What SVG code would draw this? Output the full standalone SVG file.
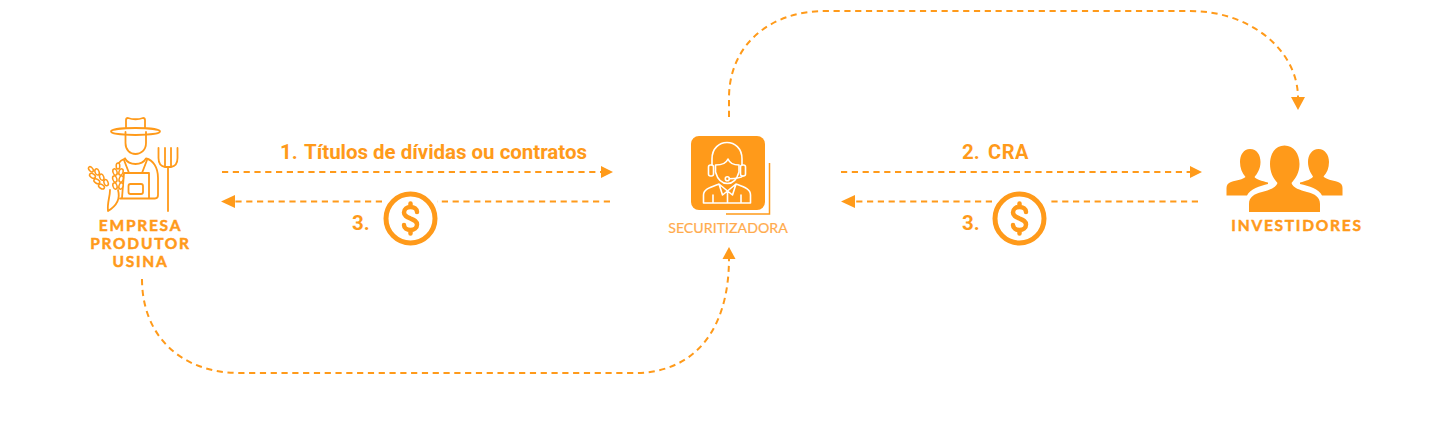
<svg xmlns="http://www.w3.org/2000/svg" width="1440" height="441" viewBox="0 0 1440 441">
<style>
.c{fill:none;stroke:#ff9a1a;stroke-width:2;stroke-dasharray:6.2 4.6}
.i{fill:none;stroke:#ff9a1a;stroke-width:1.8;stroke-linecap:round;stroke-linejoin:round}
.w{fill:none;stroke:#fff;stroke-width:1.6;stroke-linecap:round;stroke-linejoin:round}
.f{fill:#ff9a1a}
.l{font-family:"Lato","Liberation Sans",sans-serif;font-weight:700;font-size:15.500px;fill:#ff9a1a;stroke:#ff9a1a;stroke-width:.5;text-anchor:middle;letter-spacing:1.750px}
.r{font-family:"Roboto","Liberation Sans",sans-serif;font-weight:700;fill:#ff9a1a}
.d{fill:none;stroke:#ff9a1a;stroke-width:5}
</style>
<defs>
<g id="coin">
<circle r="24.500" class="d"/>
<path d="M6.500 -6.500C6.500 -9.500 3.500 -11.500 0 -11.500C-3.500 -11.500 -6.500 -9.500 -6.500 -6C-6.500 -2.500 -3.500 -1.500 0 0C3.500 1.500 6.500 2.500 6.500 6C6.500 9.500 3.500 11.500 0 11.500C-3.500 11.500 -6.500 9.500 -6.500 6.500M0 -15V-11.500M0 11.500V15" fill="none" stroke="#ff9a1a" stroke-width="4.500" stroke-linecap="round"/>
</g>
<g id="wheat" fill="#fff" stroke="#ff9a1a" stroke-width="1.500">
<ellipse cx="0" cy="3" rx="1.800" ry="3"/>
<ellipse cx="-3" cy="9" rx="2" ry="3.200" transform="rotate(-18 -3 9)"/><ellipse cx="3" cy="9" rx="2" ry="3.200" transform="rotate(18 3 9)"/>
<ellipse cx="-3.200" cy="16" rx="2" ry="3.200" transform="rotate(-18 -3.200 16)"/><ellipse cx="3.200" cy="16" rx="2" ry="3.200" transform="rotate(18 3.200 16)"/>
<ellipse cx="-3" cy="23" rx="2" ry="3.200" transform="rotate(-18 -3 23)"/><ellipse cx="3" cy="23" rx="2" ry="3.200" transform="rotate(18 3 23)"/>
</g>
</defs>
<rect width="1440" height="441" fill="#fff"/>
<g id="connectors">
<path class="c" d="M222 172H602"/><path class="f" d="M613 172L601 166V178Z"/>
<path class="c" d="M610 201.500H437M382 201.500H232"/><path class="f" d="M221 201.500L235 195V208Z"/>
<path class="c" d="M841 172H1191"/><path class="f" d="M1202 172L1190 166V178Z"/>
<path class="c" d="M1198 201.500H1047M992 201.500H852"/><path class="f" d="M841 201.500L855 195V208Z"/>
<path class="c" d="M729 117V98C729 45 770 11 825 11H1190C1250 11 1298 50 1298 98"/><path class="f" d="M1298 110L1291 97H1305Z"/>
<path class="c" d="M142 279C142 335 180 373 240 373H635C690 373 729 335 729 258"/><path class="f" d="M729 247L722.500 259H735.500Z"/>
</g>
<g id="label-1"><text class="r" x="280" y="159" font-size="20.500">1.</text><text class="r" x="304" y="158.500" font-size="20.500" textLength="283">Títulos de dívidas ou contratos</text></g>
<g id="label-2"><text class="r" x="962" y="159" font-size="20.500">2.</text><text class="r" x="988" y="158.500" font-size="20" letter-spacing=".6">CRA</text></g>
<g id="label-3a"><text class="r" x="352" y="230" font-size="20.500">3.</text><use href="#coin" x="410.500" y="218.500"/></g>
<g id="label-3b"><text class="r" x="962" y="230" font-size="20.500">3.</text><use href="#coin" x="1019.500" y="218.500"/></g>
<g id="empresa">
<ellipse class="i" cx="135.500" cy="131.500" rx="24.500" ry="3.500"/>
<path class="i" d="M126 128V120Q126 118 128 118Q135.500 120.500 143 118Q145 118 145 120V128"/>
<path class="i" d="M125.500 132V143C125.500 150 130 154 135.500 154C141 154 146 150 146 143V132"/>
<path class="i" d="M125 158.500C127 162 131 164 135.500 164C140 164 144 162 146 158.500C153 160 158 167 158 178V195Q158 198.500 155 198.500H120"/>
<path class="i" d="M125 158.500C122 159.500 120 161 118 164M124 160L129 173M147 160L142 173M124 173H149V198M129 173H142M124 173L122 198"/>
<rect class="i" x="128.500" y="184" width="14.500" height="10" rx="2"/>
<path class="i" d="M158.500 148V158Q158.500 166 165 167H171Q177.500 166 177.500 158V148M165 148V167M171 148V167M168 167V211"/>
<path class="i" d="M108 211C118 205 120 197 118 190M108 211C107 203 110 197 110 190"/>
<use href="#wheat" transform="translate(89 167) rotate(-40)"/>
<use href="#wheat" transform="translate(118 163)"/>
<text class="l" x="140.500" y="230.500">EMPRESA</text>
<text class="l" x="140.500" y="249">PRODUTOR</text>
<text class="l" x="140.500" y="267">USINA</text>
</g>
<g id="securitizadora">
<rect class="f" x="691" y="136" width="74" height="74" rx="8"/>
<path d="M769.500 163V214H726" fill="none" stroke="#ff9a1a" stroke-width="1.500"/>
<path class="w" d="M712 165V159C712 137 742 137 742 159V165"/>
<rect class="w" x="708.500" y="165" width="5" height="11" rx="2"/>
<rect class="w" x="740.500" y="165" width="5" height="11" rx="2"/>
<path class="w" d="M715.500 172V165C721 165 726 164 728 159C730 164 734 165 739 165V172C737 179 733 183.500 727.500 183.500C722 183.500 717.500 179 715.500 172Z"/>
<path class="w" d="M743 176Q740 178.500 729.500 178.700"/><circle class="w" cx="727.300" cy="178.700" r="2"/>
<path class="w" d="M703.500 203V195C703.500 189 711 187 719 184L727.500 191L736 184C744 187 750.500 189 750.500 195V203ZM713 195V203M741 195V203M727.500 191V203M719 184L722.500 195L727.500 191L732.500 195L736 184"/>
<text x="728" y="232.500" font-family="Lato, 'Liberation Sans', sans-serif" font-size="14.200" fill="#ffab4d" stroke="#ffab4d" stroke-width=".2" text-anchor="middle">SECURITIZADORA</text>
</g>
<g id="investidores">
<path class="f" d="M1250 149C1257 149 1260.500 155 1260.500 162C1260.500 169 1257 174 1254.500 177C1255.500 179 1262 181 1268 182.500V184C1260 186 1250 189 1247 195.500H1226.500V188C1226.500 185 1228 183 1231 182C1237 180 1243 179.500 1245.500 177C1242 173 1240 168 1240 162C1240 155 1243.500 149 1250 149Z"/>
<path class="f" d="M1318.500 149C1312 149 1308 155 1308 162C1308 168 1310.500 173 1313 176.500C1312 179 1306 181 1300 182.500V184C1309 186 1319 189 1322 195.500H1342.500V188C1342.500 185 1341 183 1338 182C1332 180 1326 179.500 1323.500 176.500C1327 173 1329 168 1329 162C1329 155 1325 149 1318.500 149Z"/>
<path class="f" d="M1284.500 145.500C1294 145.500 1299.500 154 1299.500 164C1299.500 172 1296 178 1291.500 183C1293 188 1300 190 1307 192C1315 194 1320 197 1320 204V212H1249V204C1249 197 1254 194 1262 192C1269 190 1276 188 1277.500 183C1273 178 1270 172 1270 164C1270 154 1275 145.500 1284.500 145.500Z"/>
<text class="l" x="1297" y="230.500">INVESTIDORES</text>
</g>
</svg>
